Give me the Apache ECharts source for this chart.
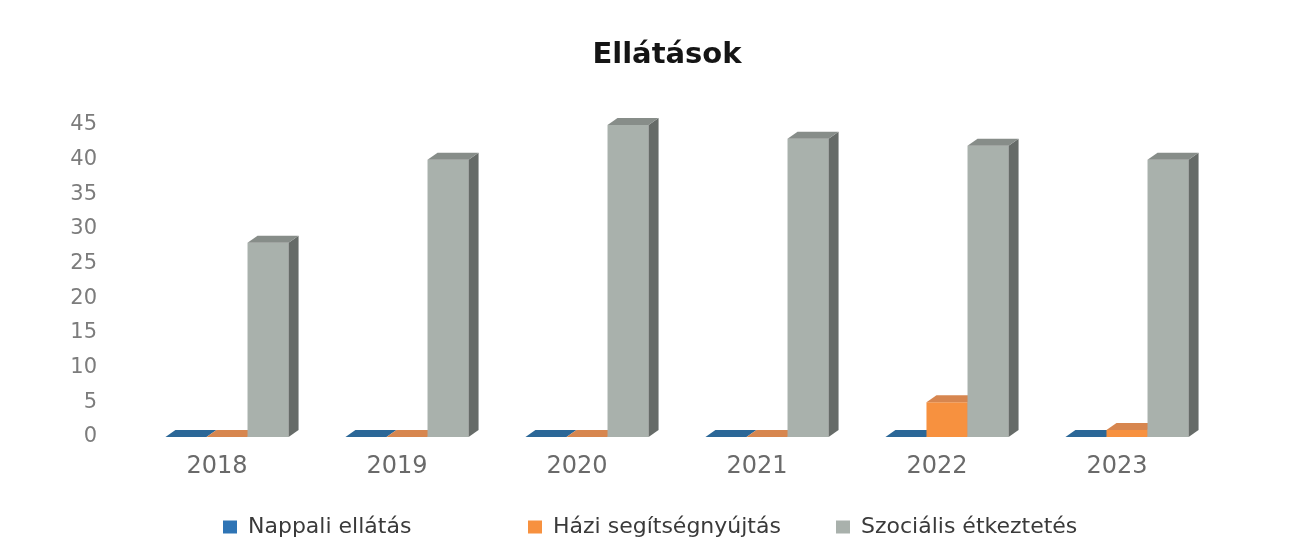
<!DOCTYPE html>
<html>
<head>
<meta charset="utf-8">
<title>Ellátások</title>
<script src="https://cdn.jsdelivr.net/npm/echarts@6/dist/echarts.min.js"></script>
<style>
  html, body { margin: 0; padding: 0; background: #ffffff; }
  #chart { width: 1304px; height: 555px; }
</style>
</head>
<body>
<div id="chart"></div>
<script>
// Yearly figures per service type
const years = ['2018', '2019', '2020', '2021', '2022', '2023'];
const nappaliEllatas = [0, 0, 0, 0, 0, 0];
const haziSegitsegnyujtas = [0, 0, 0, 0, 5, 1];
const szocialisEtkeztetes = [28, 40, 45, 43, 42, 40];
const seriesNames = ['Nappali ellátás', 'Házi segítségnyújtás', 'Szociális étkeztetés'];
const yMax = 45;
const yStep = 5;

// Shading for the three visible faces of each prism
const faces = [
  { front: '#2e74b5', top: '#2b6797', side: '#1f4f78' },
  { front: '#f7913f', top: '#d7864f', side: '#b9652c' },
  { front: '#a9b1ac', top: '#878d89', side: '#666b68' }
];

const BAR_RATIO = 0.228;   // bar width as a share of the category band
const GROUP_SHIFT = 10;    // cluster sits slightly right of the label
const DX = 10, DY = 7;     // depth of the pseudo-3D extrusion

function prismRenderer(slot, face) {
  return function (params, api) {
    const i = api.value(0);
    const v = api.value(1);
    const base = api.coord([i, 0]);
    const head = api.coord([i, v]);
    const band = api.size([1, 0])[0];
    const w = band * BAR_RATIO;
    const x0 = base[0] + GROUP_SHIFT + (slot - 1.5) * w;
    const x1 = x0 + w;
    const yb = base[1];
    const yt = head[1];
    return {
      type: 'group',
      children: [
        { type: 'polygon', shape: { points: [[x0, yb], [x1, yb], [x1, yt], [x0, yt]] }, style: { fill: face.front } },
        { type: 'polygon', shape: { points: [[x1, yb], [x1 + DX, yb - DY], [x1 + DX, yt - DY], [x1, yt]] }, style: { fill: face.side } },
        { type: 'polygon', shape: { points: [[x0, yt], [x1, yt], [x1 + DX, yt - DY], [x0 + DX, yt - DY]] }, style: { fill: face.top } }
      ]
    };
  };
}

function prismSeries(name, values, slot) {
  return {
    name: name,
    type: 'custom',
    renderItem: prismRenderer(slot, faces[slot]),
    itemStyle: { color: faces[slot].front },
    encode: { x: 0, y: 1 },
    data: values.map(function (v, i) { return [i, v]; }),
    z: 2 + slot
  };
}

const legendText = { fontFamily: 'DejaVu Sans', fontSize: 22, color: '#3a3a3a', padding: [0, 0, 0, 6] };
function legendFor(name, left) {
  return {
    data: [name], left: left, top: 511, icon: 'rect',
    itemWidth: 14, itemHeight: 13, textStyle: legendText, selectedMode: false
  };
}

const chart = echarts.init(document.getElementById('chart'), null, { renderer: 'canvas' });
chart.setOption({
  backgroundColor: '#ffffff',
  animation: false,
  title: {
    text: 'Ellátások',
    left: 662,
    textAlign: 'center',
    top: 36,
    textStyle: { fontFamily: 'DejaVu Sans', fontWeight: 'bold', fontSize: 29, color: '#151515' }
  },
  legend: [
    legendFor(seriesNames[0], 218),
    legendFor(seriesNames[1], 523),
    legendFor(seriesNames[2], 831)
  ],
  grid: { left: 127, right: 97, top: 125, bottom: 118 },
  xAxis: {
    type: 'category',
    data: years,
    axisLine: { show: false },
    axisTick: { show: false },
    splitLine: { show: false },
    axisLabel: { margin: 18, fontFamily: 'DejaVu Sans', fontSize: 24, color: '#6a6a6a' }
  },
  yAxis: {
    type: 'value',
    min: 0,
    max: yMax,
    interval: yStep,
    axisLine: { show: false },
    axisTick: { show: false },
    splitLine: { show: false },
    axisLabel: { margin: 30, fontFamily: 'DejaVu Sans', fontSize: 21, color: '#7c7c7c' }
  },
  series: [
    prismSeries(seriesNames[0], nappaliEllatas, 0),
    prismSeries(seriesNames[1], haziSegitsegnyujtas, 1),
    prismSeries(seriesNames[2], szocialisEtkeztetes, 2)
  ]
});
</script>
</body>
</html>
